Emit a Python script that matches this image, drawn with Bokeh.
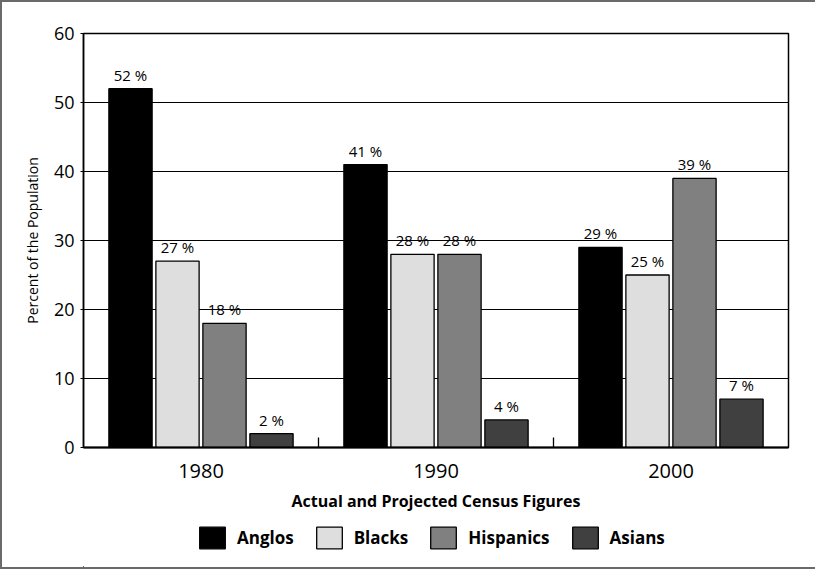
import numpy as np
from bokeh.plotting import figure
from bokeh.layouts import column
from bokeh.models import (ColumnDataSource, FixedTicker, Legend, LegendItem,
                          Range1d, LabelSet)
from bokeh.core.properties import value
from bokeh.embed import file_html
from bokeh.resources import INLINE

# ---- data ----
years = ["1980", "1990", "2000"]
groups = ["Anglos", "Blacks", "Hispanics", "Asians"]
anglos = [52, 41, 29]
blacks = [27, 28, 25]
hispanics = [18, 28, 39]
asians = [2, 4, 7]
y_ticks = [0, 10, 20, 30, 40, 50, 60]

series = [anglos, blacks, hispanics, asians]
colors = ["#000000", "#dedede", "#808080", "#404040"]
offsets = [-0.3, -0.1, 0.1, 0.3]
BAR_W = 0.184
FONT = "Open Sans"
W = 813
ML, MR = 81, 27

p = figure(width=W, height=521, output_backend="svg", toolbar_location=None,
           x_range=Range1d(0, 3), y_range=Range1d(0, 60),
           min_border_left=ML, min_border_right=MR, min_border_top=31,
           min_border_bottom=76)

# legend strip (swatches only; its ranges keep the bars out of view)
leg = figure(width=W, height=44, output_backend="svg", toolbar_location=None,
             x_range=Range1d(100, 101), y_range=Range1d(100, 101),
             x_axis_location=None, y_axis_location=None,
             min_border_left=ML, min_border_right=MR, min_border_top=0,
             min_border_bottom=0)
leg.grid.visible = False
leg.outline_line_color = None
leg.border_fill_color = "white"

centers = np.arange(len(years)) + 0.5
items = []
for name, vals, col, off in zip(groups, series, colors, offsets):
    src = ColumnDataSource(dict(x=centers + off, top=vals,
                                label=[f"{v} %" for v in vals]))
    p.vbar(x="x", top="top", width=BAR_W, bottom=0, source=src,
           fill_color=col, line_color="black", line_width=1.3)
    lbl = LabelSet(x="x", y="top", text="label", source=src,
                   text_align="center", text_baseline="bottom", y_offset=4,
                   text_font=value(FONT), text_font_size=value("15px"),
                   text_color="black")
    p.add_layout(lbl)
    r = leg.vbar(x="x", top="top", width=BAR_W, bottom=0, source=src,
                 fill_color=col, line_color="black", line_width=1.3)
    items.append(LegendItem(label=name, renderers=[r]))

# x axis
p.xaxis.ticker = FixedTicker(ticks=list(centers), minor_ticks=[1, 2])
p.xaxis.major_label_overrides = {float(c): y for c, y in zip(centers, years)}
p.xaxis.major_tick_in = 0
p.xaxis.major_tick_out = 0
p.xaxis.minor_tick_in = 10
p.xaxis.minor_tick_out = 0
p.xaxis.minor_tick_line_color = "black"
p.xaxis.minor_tick_line_width = 1.3
p.xaxis.axis_line_width = 2
p.xaxis.axis_line_color = "black"
p.xaxis.major_label_text_font = FONT
p.xaxis.major_label_text_font_size = "20px"
p.xaxis.major_label_text_color = "black"
p.xaxis.major_label_standoff = 16
p.xaxis.axis_label = "Actual and Projected Census Figures"
p.xaxis.axis_label_text_font = FONT
p.xaxis.axis_label_text_font_size = "16px"
p.xaxis.axis_label_text_font_style = "bold"
p.xaxis.axis_label_text_color = "black"
p.xaxis.axis_label_standoff = 9

# y axis
p.yaxis.ticker = FixedTicker(ticks=y_ticks)
p.yaxis.major_tick_in = 0
p.yaxis.major_tick_out = 3
p.yaxis.major_tick_line_color = "black"
p.yaxis.minor_tick_line_color = None
p.yaxis.axis_line_width = 1.5
p.yaxis.axis_line_color = "black"
p.yaxis.major_label_text_font = FONT
p.yaxis.major_label_text_font_size = "18px"
p.yaxis.major_label_text_color = "black"
p.yaxis.major_label_standoff = 6
p.yaxis.axis_label = "Percent of the Population"
p.yaxis.axis_label_text_font = FONT
p.yaxis.axis_label_text_font_size = "14px"
p.yaxis.axis_label_text_font_style = "normal"
p.yaxis.axis_label_text_color = "black"
p.yaxis.axis_label_standoff = 9

p.xgrid.visible = False
p.ygrid.ticker = FixedTicker(ticks=y_ticks)
p.ygrid.grid_line_color = "black"
p.ygrid.grid_line_width = 1.2

p.outline_line_color = "black"
p.outline_line_width = 1.5
p.background_fill_color = "white"
p.border_fill_color = "white"

legend = Legend(items=items, orientation="horizontal", location=(113, 16),
                glyph_width=32, glyph_height=27, label_standoff=9, spacing=19,
                label_height=27,
                label_text_font=FONT, label_text_font_size="17px",
                label_text_font_style="bold", label_text_color="black",
                border_line_color=None, background_fill_alpha=0,
                padding=0, margin=0)
leg.add_layout(legend)

layout = column(p, leg, spacing=0,
                styles={"border-left": "2px solid #6a6a6a",
                        "border-top": "2px solid #6a6a6a",
                        "border-bottom": "2px solid #6a6a6a"})

open("out.html", "w").write(file_html(layout, INLINE))
